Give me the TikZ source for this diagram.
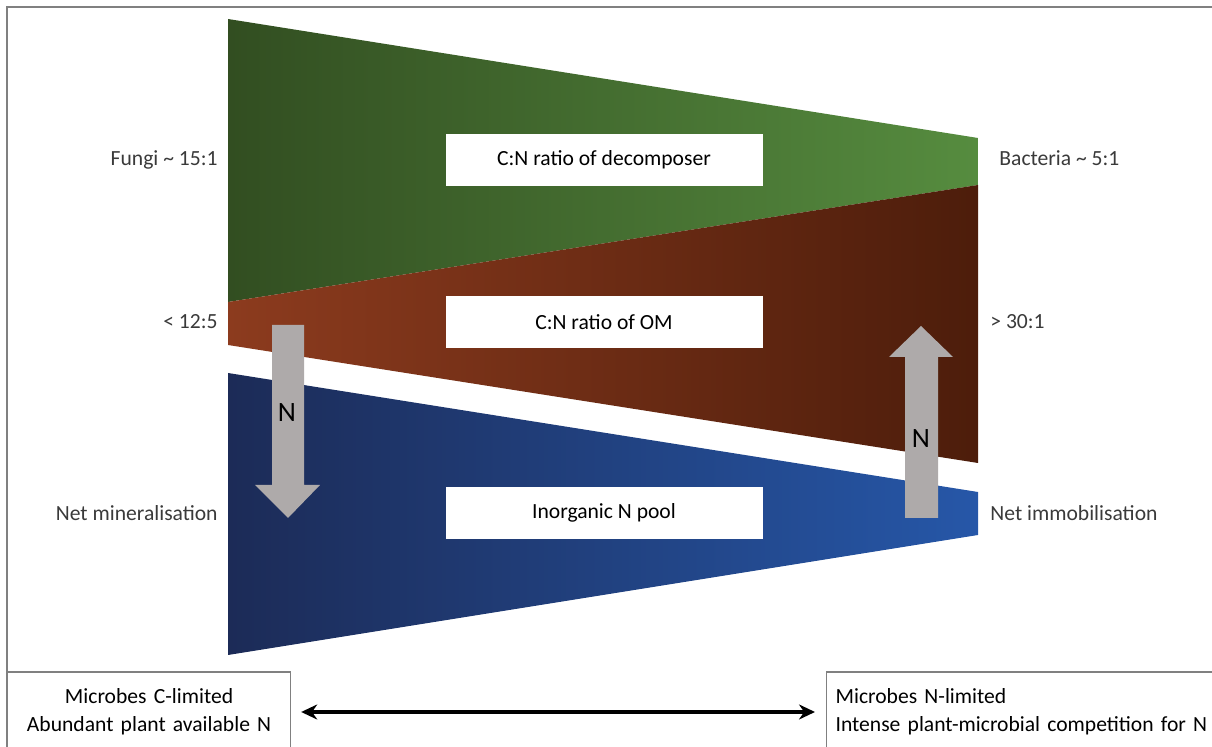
\documentclass[tikz,border=0pt]{standalone}
\usepackage{fontspec}
\setmainfont{Carlito}
\usepackage{tikz}
\usetikzlibrary{arrows.meta}

\definecolor{greenL}{HTML}{324E21}
\definecolor{greenR}{HTML}{568C3F}
\definecolor{brownL}{HTML}{8C3B1E}
\definecolor{brownR}{HTML}{4D1D0B}
\definecolor{blueL}{HTML}{1C2B57}
\definecolor{blueR}{HTML}{2657A8}
\definecolor{arrowgray}{HTML}{AEAAAA}
\definecolor{labelgray}{HTML}{3A3A3A}
\definecolor{framegray}{HTML}{808080}

\begin{document}
\begin{tikzpicture}[x=0.5pt, y=-0.5pt, font=\fontsize{10.8}{14}\selectfont,
	sidelabel/.style={text=labelgray, inner sep=0pt, text height=1.5ex, text depth=.25ex},
	poolbox/.style={fill=white, minimum width=158.5pt, minimum height=26pt, inner sep=0pt},
	limbox/.style={draw=framegray, line width=0.6pt, minimum height=40pt, inner ysep=0pt, inner xsep=4.5pt}]
	\useasboundingbox (0,0) rectangle (1212,747);
	
	% Frame
	\draw[framegray, line width=0.75pt] (7,747) -- (7,7) -- (1212,7);
	
	% Pools
	\shade[left color=greenL, right color=greenR] (228,19) -- (978,138) -- (978,185) -- (228,302) -- cycle;
	\shade[left color=brownL, right color=brownR] (228,302) -- (978,185) -- (978,463) -- (228,345) -- cycle;
	\shade[left color=blueL, right color=blueR] (228,373) -- (978,492) -- (978,535) -- (228,655) -- cycle;
	
	% N flux arrows
	\fill[arrowgray] (272,325) -- (304,325) -- (304,485) -- (320,485) -- (288,518) -- (255,485) -- (272,485) -- cycle;
	\fill[arrowgray] (905,518) -- (938,518) -- (938,357) -- (953,357) -- (921,326) -- (889,357) -- (905,357) -- cycle;
	\node[font=\fontsize{14}{16}\selectfont] (nmin) at (287,413) {N};
	\node[font=\fontsize{14}{16}\selectfont] (nimm) at (921,439) {N};
	
	% Define nodes
	\node[poolbox] (decomp) at (604,160) {C:N ratio of decomposer};
	\node[poolbox] (om) at (604,322) {C:N ratio of OM};
	\node[poolbox] (inorg) at (604,513) {Inorganic N pool};
	
	\node[sidelabel, anchor=east] (fungi) at (218,160) {Fungi \textasciitilde\ 15:1};
	\node[sidelabel, anchor=east] (lowom) at (218,323) {< 12:5};
	\node[sidelabel, anchor=east] (netmin) at (218,515) {Net mineralisation};
	\node[sidelabel, anchor=west] (bact) at (999,160) {Bacteria \textasciitilde\ 5:1};
	\node[sidelabel, anchor=west] (highom) at (990,323) {> 30:1};
	\node[sidelabel, anchor=west] (netimm) at (990,515) {Net immobilisation};
	
	\node[limbox, anchor=west, text width=132.5pt, align=center] (climit) at (7,712)
		{Microbes C-limited\\Abundant plant available N};
	\node[limbox, anchor=west, text width=193pt, align=left] (nlimit) at (826,712)
		{Microbes N-limited\\Intense plant-microbial competition for N};
	
	% Draw edges
	\draw[{Stealth[length=8pt, width=7.5pt]}-{Stealth[length=8pt, width=7.5pt]}, line width=1.6pt,
		shorten <=5pt, shorten >=5.5pt] (climit.east) -- (nlimit.west);
\end{tikzpicture}
\end{document}
